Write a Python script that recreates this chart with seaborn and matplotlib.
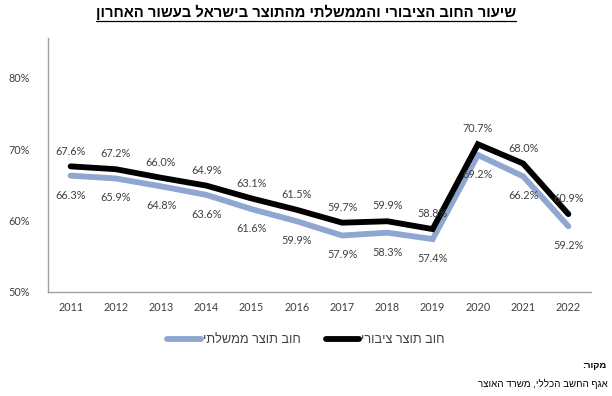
import numpy as np
import pandas as pd
import matplotlib
matplotlib.use("Agg")
import matplotlib.pyplot as plt
import seaborn as sns
from matplotlib.lines import Line2D

years = ["2011", "2012", "2013", "2014", "2015", "2016", "2017", "2018", "2019", "2020", "2021", "2022"]
public_debt = [67.6, 67.2, 66.0, 64.9, 63.1, 61.5, 59.7, 59.9, 58.8, 70.7, 68.0, 60.9]
gov_debt = [66.3, 65.9, 64.8, 63.6, 61.6, 59.9, 57.9, 58.3, 57.4, 69.2, 66.2, 59.2]
series_names = ["חוב תוצר ממשלתי", "חוב תוצר ציבורי"]
title = "שיעור החוב הציבורי והממשלתי מהתוצר בישראל בעשור האחרון"
source_label = "מקור:"
source_text = "אגף החשב הכללי, משרד האוצר"
y_ticks = [50, 60, 70, 80]


def vis(s):
    # Hebrew is right-to-left: reverse for left-to-right rendering
    return s[::-1]


sns.set_theme(style="white")
plt.rcParams["font.family"] = ["Lato", "Liberation Sans", "DejaVu Sans"]
HEB = ["Liberation Sans", "DejaVu Sans"]

df = pd.DataFrame({
    "x": list(range(len(years))) * 2,
    "value": gov_debt + public_debt,
    "series": [series_names[0]] * len(years) + [series_names[1]] * len(years),
})

colors = {series_names[0]: "#8FA7D0", series_names[1]: "#000000"}

fig = plt.figure(figsize=(6.12, 3.96), dpi=100)
ax = fig.add_axes([48 / 612, 0.263, 543 / 612, 0.641])

sns.lineplot(data=df, x="x", y="value", hue="series", palette=colors,
             linewidth=4.2, ax=ax, legend=False, sort=False)
for line in ax.get_lines():
    line.set_solid_capstyle("round")
    line.set_solid_joinstyle("miter")

ax.set_xlim(-0.5, len(years) - 0.5)
ax.set_ylim(50, 85.6)
ax.set_xticks(range(len(years)))
ax.set_xticklabels(years)
ax.set_yticks(y_ticks)
ax.set_yticklabels([f"{v}%" for v in y_ticks])
ax.tick_params(axis="both", length=0, labelsize=7.8, colors="#404040")
ax.tick_params(axis="y", pad=13)
ax.tick_params(axis="x", pad=7)
ax.set_xlabel("")
ax.set_ylabel("")
ax.grid(False)
for s in ["top", "right"]:
    ax.spines[s].set_visible(False)
for s in ["left", "bottom"]:
    ax.spines[s].set_color("#A0A0A0")
    ax.spines[s].set_linewidth(1.0)

for i, (p, g) in enumerate(zip(public_debt, gov_debt)):
    ax.annotate(f"{p:.1f}%", (i, p), xytext=(0, 11), textcoords="offset points",
                ha="center", va="center", fontsize=7.8, color="#404040")
    ax.annotate(f"{g:.1f}%", (i, g), xytext=(0, -14), textcoords="offset points",
                ha="center", va="center", fontsize=7.8, color="#404040")

handles = [Line2D([0], [0], color=colors[n], lw=4.2, solid_capstyle="round") for n in series_names]
leg = fig.legend(handles, [vis(n) for n in series_names], loc="center",
                 bbox_to_anchor=(0.5, 1 - 340 / 396), ncol=2, frameon=False,
                 handlelength=2.6, handletextpad=0.15, columnspacing=2.0,
                 prop={"family": HEB, "size": 9.2})
for t in leg.get_texts():
    t.set_color("#404040")

fig.text(0.5, 1 - 12 / 396, vis(title), ha="center", va="center",
         fontsize=10.6, fontweight="bold", family=HEB, color="#000000")
# underline
fig.canvas.draw()
r = fig.texts[-1].get_window_extent()
inv = fig.transFigure.inverted()
(x0, y0), (x1, y1) = inv.transform([(r.x0, r.y0), (r.x1, r.y1)])
fig.add_artist(Line2D([x0, x1], [y0 - 0.003, y0 - 0.003], color="black", lw=0.9,
                      transform=fig.transFigure))

fig.text(1 - 6 / 612, 1 - 366 / 396, vis(source_label), ha="right", va="center",
         fontsize=6.8, fontweight="bold", family=HEB, color="#000000")
fig.text(1 - 4 / 612, 1 - 384 / 396, vis(source_text), ha="right", va="center",
         fontsize=7.0, family=HEB, color="#000000")

fig.savefig("out.png", dpi=100, facecolor="white")
